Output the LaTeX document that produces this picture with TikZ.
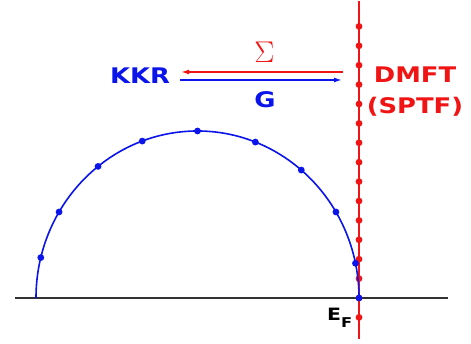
\RequirePackage{fix-cm}
\documentclass[tikz,border=0pt]{standalone}
\usepackage[no-math]{fontspec}
\newfontfamily\labelfont{DejaVu Sans}[FakeStretch=1.2]
\usepackage{tikz}
\usetikzlibrary{arrows.meta,positioning}
\definecolor{kkrblue}{RGB}{10,20,235}
\definecolor{dmftred}{RGB}{240,20,20}
\definecolor{axisgray}{RGB}{50,50,50}

\begin{document}
\begin{tikzpicture}[x=1pt, y=1pt,
  lbl/.style={font=\labelfont\bfseries\fontsize{21.5}{25}\selectfont,
    inner sep=0pt, anchor=base},
  arr/.style={-{Latex[length=8pt,width=5pt]}, line width=1.5pt}]
  \useasboundingbox (0,0) rectangle (471,344);
  % real axis and the line through E_F
  \coordinate (axL) at (15,46);
  \coordinate (axR) at (448,46);
  \coordinate (ef) at (359,46);
  \coordinate (imTop) at (359,343);
  \coordinate (imBot) at (359,5);
  \coordinate (ctr) at (197.5,46);
  \draw[axisgray, line width=1.8pt] (axL) -- (axR);
  \draw[dmftred, line width=1.5pt] (imBot) -- (imTop);
  \foreach \k in {-1,...,14}
    \fill[dmftred] (359,{46+19.4*\k}) circle (3.4);
  % contour in the complex plane
  \draw[kkrblue, line width=1.6pt] (ef)
    arc[start angle=0, end angle=180, x radius=161.5, y radius=167];
  \foreach \a in {0,12,31,50,69,90,110,128,149,166}
    \fill[kkrblue] (ctr) ++(\a:161.5 and 167) circle (3.4);
  % labels
  \node[lbl, text=kkrblue] (kkr) at (140,260) {KKR};
  \node[lbl, text=dmftred] (dmft) at (415,261) {DMFT};
  \node[lbl, text=dmftred] (sptf) at ([yshift=-31pt]dmft.base) {(SPTF)};
  \node[text=dmftred, inner sep=0pt] (sigma) at (264.5,291.5)
    {\fontsize{30}{31}\selectfont$\Sigma$};
  \node[lbl, text=kkrblue] (gfun) at (265,236) {G};
  \node[lbl, anchor=base west,
    font=\labelfont\bfseries\fontsize{17}{20}\selectfont] (efl) at (327,23)
    {E\raisebox{-7pt}{\fontsize{13.5}{15}\selectfont F}};
  % self-energy and Green's function exchange
  \coordinate (sigR) at (343,272);
  \coordinate (sigL) at (181,272);
  \coordinate (gL) at (180,264);
  \coordinate (gR) at (342,264);
  \draw[arr, dmftred] (sigR) -- (sigL);
  \draw[arr, kkrblue] (gL) -- (gR);
\end{tikzpicture}
\end{document}
